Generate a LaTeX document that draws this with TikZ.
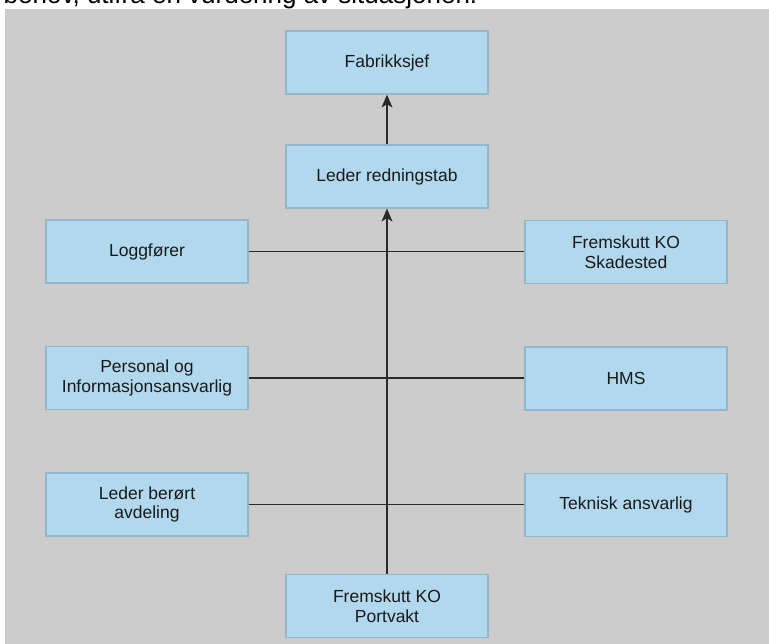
\documentclass[tikz,border=0pt]{standalone}
\usepackage{fontspec}
\setmainfont{Liberation Sans}
\usetikzlibrary{arrows.meta}
\definecolor{bg}{HTML}{CCCCCC}
\definecolor{boxfill}{HTML}{B1D8EC}
\definecolor{boxdraw}{HTML}{92B6CA}
\definecolor{txt}{HTML}{1A1A1A}
\definecolor{ln}{HTML}{2A2A2A}
\begin{document}
\begin{tikzpicture}[x=1pt,y=-1pt,
  box/.style={draw=boxdraw, line width=1.2pt, fill=boxfill, minimum width=202pt, minimum height=63pt, inner sep=0pt, align=center, font=\fontsize{17.5}{19.5}\selectfont, text=txt},
  conn/.style={draw=ln, line width=1.4pt},
  arr/.style={conn, -{Stealth[length=13pt,width=11pt,inset=3.5pt]}}]
\useasboundingbox (0,0) rectangle (769,644);
\clip (0,0) rectangle (769,644);
\fill[white] (0,0) rectangle (769,644);
\node[anchor=base west, inner sep=0pt, font=\fontsize{26}{30}\selectfont, text=black] (intro) at (3.5,3.5) {behov, utifra en vurdering av situasjonen.};
\fill[bg] (5,9) rectangle (769,644);

\node[box] (fab) at (387,62.5) {Fabrikksjef};
\node[box] (led) at (387,176.5) {Leder redningstab};
\node[box] (log) at (147,251.5) {Loggfører};
\node[box] (ska) at (626,252) {Fremskutt KO\\Skadested};
\node[box] (per) at (147,378) {Personal og\\Informasjonsansvarlig};
\node[box] (hms) at (626,378.5) {HMS};
\node[box] (ber) at (147,504.5) {Leder berørt\\avdeling};
\node[box] (tek) at (626,505) {Teknisk ansvarlig};
\node[box] (por) at (387,606) {Fremskutt KO\\Portvakt};

\draw[conn] (log.east) -- (log.east -| ska.west);
\draw[conn] (per.east) -- (per.east -| hms.west);
\draw[conn] (ber.east) -- (ber.east -| tek.west);
\draw[arr] (por.north) -- (led.south);
\draw[arr] (led.north) -- (fab.south);
\end{tikzpicture}
\end{document}
